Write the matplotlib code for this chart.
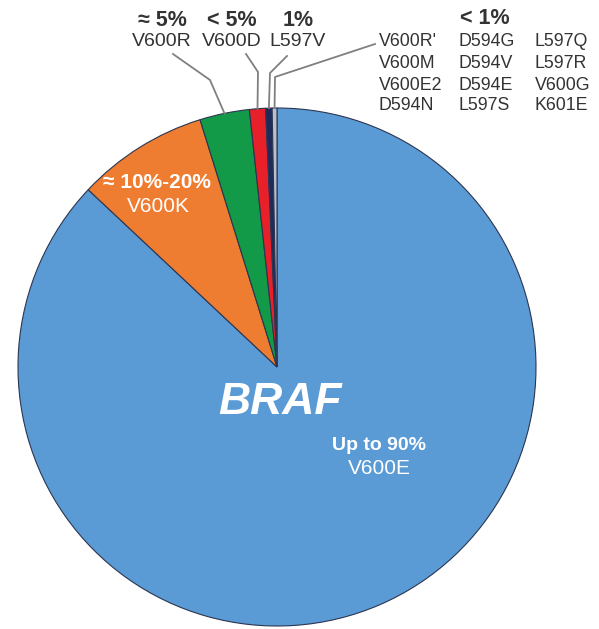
import numpy as np
import matplotlib
matplotlib.use("Agg")
import matplotlib.pyplot as plt

plt.rcParams['font.family'] = ['Liberation Sans', 'DejaVu Sans']

# Data
mutations = ["V600E", "V600K", "V600R", "V600D", "L597V", "Other (<1%)"]
shares = [87.0, 8.2, 3.1, 1.0, 0.4, 0.3]
colors = ["#5b9bd5", "#ee7d31", "#139a48", "#e8202a", "#1f2a5c", "#b8c0cc"]
pct_labels = ["Up to 90%", "≈ 10%-20%", "≈ 5%", "< 5%", "1%", "< 1%"]
rare_mutations = [["V600R'", "D594G", "L597Q"],
                  ["V600M", "D594V", "L597R"],
                  ["V600E2", "D594E", "V600G"],
                  ["D594N", "L597S", "K601E"]]

W, H = 599, 629
fig = plt.figure(figsize=(W / 100, H / 100), dpi=100)
ax = fig.add_axes([0, 0, 1, 1])

cx, cy, R = 277, H - 367, 259
wedges, _ = ax.pie(shares, colors=colors, startangle=90, counterclock=False,
                   radius=R, center=(cx, cy), frame=True,
                   wedgeprops=dict(edgecolor="#2b3550", linewidth=0.8))
ax.set_xlim(0, W)
ax.set_ylim(0, H)
ax.set_aspect('equal')
ax.axis('off')

def yy(v):
    return H - v

# Center texts
ax.text(280, yy(402), "BRAF", color="white", fontsize=32, fontweight="bold",
        fontstyle="italic", ha="center", va="center")
ax.text(379, yy(445), pct_labels[0], color="white", fontsize=14, fontweight="bold",
        ha="center", va="center")
ax.text(379, yy(468), mutations[0], color="white", fontsize=15,
        ha="center", va="center")
ax.text(157, yy(183), pct_labels[1], color="white", fontsize=15, fontweight="bold",
        ha="center", va="center")
ax.text(158, yy(207), mutations[1], color="white", fontsize=15,
        ha="center", va="center")

# Top labels for small slices
top_x = [162, 232, 298]
for i, x in enumerate(top_x):
    ax.text(x, yy(20), pct_labels[2 + i], color="#333333", fontsize=15.5,
            fontweight="bold", ha="center", va="center")
    ax.text(x, yy(41), mutations[2 + i], color="#333333", fontsize=14,
            ha="center", va="center")

ax.text(485, yy(19), pct_labels[5], color="#333333", fontsize=15.5,
        fontweight="bold", ha="center", va="center")
col_x = [379, 458, 535]
row_y = [42, 63, 85, 106]
for r, row in enumerate(rare_mutations):
    for c, name in enumerate(row):
        ax.text(col_x[c], yy(row_y[r]), name, color="#333333", fontsize=12.8,
                ha="left", va="center")

# Leader lines from wedges
elbows = [(210, 80), (258, 72), (270, 73), (275, 77)]
ends = [(173, 54), (246, 54), (287, 56), (375, 44)]
for k, w in enumerate(wedges[2:]):
    mid = np.deg2rad((w.theta1 + w.theta2) / 2)
    sx = cx + R * np.cos(mid)
    sy = cy + R * np.sin(mid)
    ex, ey = elbows[k]
    fx, fy = ends[k]
    ax.plot([sx, ex, fx], [sy, yy(ey), yy(fy)], color="#808080", lw=1.3,
            solid_joinstyle="miter")

fig.savefig("out.png", dpi=100, facecolor="white")
